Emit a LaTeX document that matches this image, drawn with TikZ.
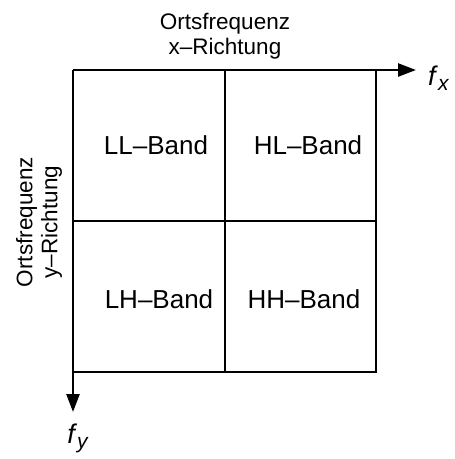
\documentclass[tikz,border=0pt]{standalone}
\usepackage{fontspec}
\setmainfont{Liberation Sans}
\usetikzlibrary{arrows.meta}
\tikzset{
  gline/.style={line width=2.6pt},
  axis/.style={line width=2.6pt,-{Triangle[length=18pt,width=13pt]}},
  bandlabel/.style={inner sep=0pt,font=\fontsize{26}{28}\selectfont},
  axlabel/.style={inner sep=0pt,align=center,font=\fontsize{22.5}{25}\selectfont},
  flabel/.style={inner sep=0pt,font=\fontsize{27}{30}\selectfont}
}
\begin{document}
\begin{tikzpicture}[x=1pt,y=-1pt]
\useasboundingbox (0,0) rectangle (455,459);
\coordinate (tl) at (73,70);
\coordinate (tr) at (376,70);
\coordinate (bl) at (73,372);
\coordinate (br) at (376,372);
\coordinate (tm) at (225,70);
\coordinate (bm) at (225,372);
\coordinate (lm) at (73,221);
\coordinate (rm) at (376,221);
\coordinate (xend) at (416,70);
\coordinate (yend) at (73,412);
\draw[gline] (tl) -- (bl) -- (br) -- (tr);
\draw[gline] (tm) -- (bm);
\draw[gline] (lm) -- (rm);
\draw[axis] (tl) -- (xend);
\draw[axis] (bl) -- (yend);
\node[bandlabel] (ll) at (156,145) {LL–Band};
\node[bandlabel] (hl) at (308,145) {HL–Band};
\node[bandlabel] (lh) at (159,299) {LH–Band};
\node[bandlabel] (hh) at (304,299) {HH–Band};
\node[axlabel] (xt) at (225,36) {Ortsfrequenz\\x–Richtung};
\node[axlabel,rotate=90] (yt) at (39,222) {Ortsfrequenz\\y–Richtung};
\node[flabel,anchor=west] (fx) at (428,78) {\textit{f}\raisebox{-5pt}{\fontsize{21}{23}\selectfont\textit{x}}};
\node[flabel] (fy) at (78,438) {\textit{f}\raisebox{-5pt}{\fontsize{21}{23}\selectfont\textit{y}}};
\end{tikzpicture}
\end{document}
